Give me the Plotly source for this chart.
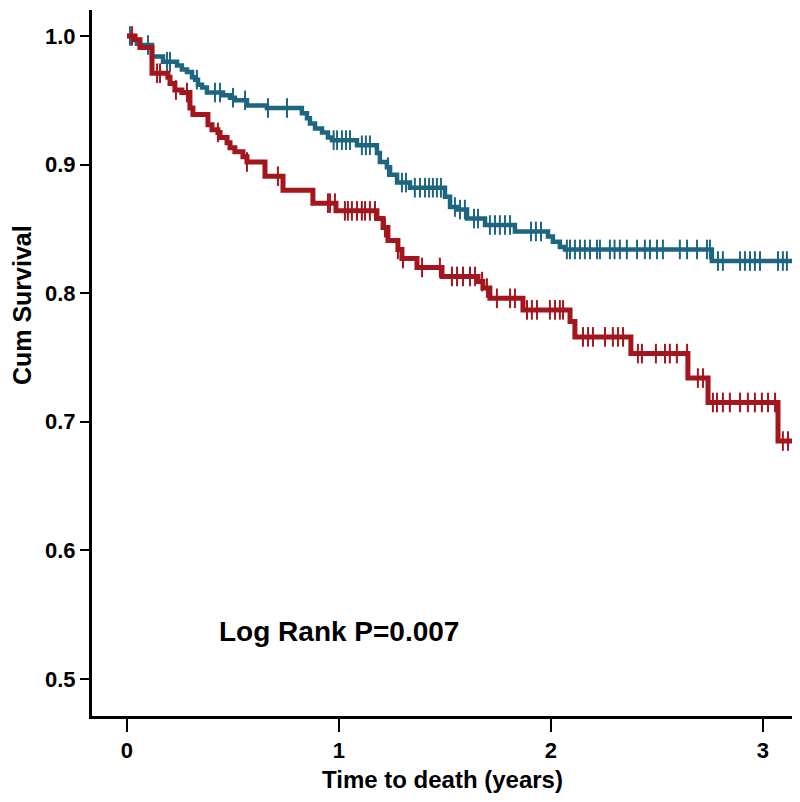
import bisect
import plotly.graph_objects as go

# ---- data ----
red_times = [0.0, 0.038, 0.061, 0.118, 0.193, 0.203, 0.226, 0.259, 0.297, 0.311, 0.382, 0.401,
             0.429, 0.439, 0.472, 0.486, 0.509, 0.547, 0.566, 0.651, 0.736, 0.877, 0.986,
             1.179, 1.208, 1.231, 1.278, 1.297, 1.368, 1.486, 1.656, 1.679, 1.712, 1.868,
             2.090, 2.113, 2.377, 2.646, 2.741, 3.071, 3.160]
red_surv = [1.0, 0.997, 0.991, 0.971, 0.968, 0.963, 0.958, 0.956, 0.944, 0.939, 0.931, 0.927,
            0.925, 0.921, 0.917, 0.913, 0.910, 0.906, 0.902, 0.891, 0.880, 0.870, 0.864,
            0.858, 0.851, 0.841, 0.834, 0.827, 0.820, 0.813, 0.809, 0.804, 0.796, 0.787,
            0.778, 0.766, 0.753, 0.734, 0.715, 0.685, 0.652]
red_censor = [0.024, 0.142, 0.156, 0.231, 0.283, 0.429, 0.566, 0.712, 0.948, 0.958, 0.981,
              1.028, 1.042, 1.061, 1.085, 1.108, 1.123, 1.146, 1.170, 1.217, 1.278, 1.302,
              1.392, 1.476, 1.533, 1.557, 1.585, 1.618, 1.642, 1.675, 1.698, 1.745, 1.807,
              1.830, 1.887, 1.910, 1.934, 1.995, 2.019, 2.042, 2.057, 2.151, 2.175, 2.198,
              2.255, 2.292, 2.316, 2.340, 2.410, 2.429, 2.495, 2.538, 2.561, 2.594, 2.642,
              2.693, 2.717, 2.764, 2.783, 2.811, 2.844, 2.892, 2.929, 2.962, 2.995, 3.024,
              3.057, 3.094, 3.118]

teal_times = [0.0, 0.028, 0.047, 0.061, 0.118, 0.170, 0.236, 0.259, 0.283, 0.307, 0.321, 0.335,
              0.354, 0.377, 0.453, 0.486, 0.509, 0.566, 0.660, 0.825, 0.849, 0.863, 0.887,
              0.920, 0.948, 0.967, 1.085, 1.179, 1.193, 1.226, 1.241, 1.274, 1.335, 1.500,
              1.524, 1.557, 1.604, 1.689, 1.830, 1.986, 2.009, 2.042, 2.066, 2.759, 3.175]
teal_surv = [1.0, 0.997, 0.994, 0.993, 0.984, 0.980, 0.977, 0.974, 0.972, 0.968, 0.966, 0.962,
             0.960, 0.956, 0.954, 0.952, 0.950, 0.946, 0.944, 0.940, 0.936, 0.932, 0.928,
             0.925, 0.921, 0.919, 0.915, 0.909, 0.902, 0.898, 0.892, 0.886, 0.882, 0.875,
             0.867, 0.865, 0.858, 0.853, 0.848, 0.844, 0.840, 0.836, 0.834, 0.825, 0.825]
teal_censor = [0.014, 0.099, 0.189, 0.203, 0.330, 0.415, 0.439, 0.500, 0.557, 0.665, 0.755,
               0.975, 0.991, 1.014, 1.033, 1.052, 1.108, 1.127, 1.146, 1.231, 1.297, 1.316,
               1.358, 1.382, 1.406, 1.425, 1.443, 1.462, 1.481, 1.547, 1.571, 1.594, 1.637,
               1.656, 1.712, 1.736, 1.759, 1.783, 1.807, 1.906, 1.929, 1.953, 2.075, 2.090,
               2.113, 2.137, 2.160, 2.184, 2.217, 2.231, 2.278, 2.300, 2.325, 2.358, 2.406,
               2.443, 2.467, 2.500, 2.528, 2.608, 2.642, 2.689, 2.736, 2.750, 2.788, 2.811,
               2.892, 2.915, 2.939, 2.962, 2.986, 3.071, 3.094, 3.113, 3.165]

x_ticks = [0, 1, 2, 3]
y_ticks = [0.5, 0.6, 0.7, 0.8, 0.9, 1.0]

RED = "#A3161E"
TEAL = "#1E6580"


def surv_at(times, surv, t):
    i = bisect.bisect_right(times, t) - 1
    return surv[max(i, 0)]


fig = go.Figure()
for times, surv, cens, col, w in [(teal_times, teal_surv, teal_censor, TEAL, 4.5),
                                  (red_times, red_surv, red_censor, RED, 5)]:
    fig.add_trace(go.Scatter(x=times, y=surv, mode="lines",
                             line=dict(color=col, width=w, shape="hv"),
                             showlegend=False, hoverinfo="skip"))
    fig.add_trace(go.Scatter(x=cens, y=[surv_at(times, surv, t) for t in cens],
                             mode="markers",
                             marker=dict(symbol="line-ns", size=14,
                                         line=dict(color=col, width=2)),
                             showlegend=False, hoverinfo="skip"))

FONT = "Liberation Sans, Arial, sans-serif"

fig.add_annotation(x=0.425, y=0.5366, xref="x", yref="y", xanchor="left", yanchor="middle",
                   text="Log Rank P=0.007", showarrow=False,
                   font=dict(family=FONT, size=28, color="black", weight="bold"))
fig.add_annotation(x=0, y=0.582, xref="paper", yref="paper", xanchor="center",
                   yanchor="middle", xshift=-70, textangle=-90,
                   text="Cum Survival", showarrow=False,
                   font=dict(family=FONT, size=25, color="black", weight="bold"))
fig.add_annotation(x=0.5, y=0, xref="paper", yref="paper", xanchor="center",
                   yanchor="middle", yshift=-63,
                   text="Time to death (years)", showarrow=False,
                   font=dict(family=FONT, size=24, color="black", weight="bold"))

# the page body adds an 8px offset, so the figure is sized to fit the window
fig.update_layout(
    width=784, height=786,
    margin=dict(l=84, r=0, t=2, b=78),
    paper_bgcolor="white", plot_bgcolor="white",
    font=dict(family=FONT, color="black"),
    xaxis=dict(range=[-0.165, 3.137], tickvals=x_ticks, ticktext=[str(v) for v in x_ticks],
               showline=True, linewidth=3, linecolor="black", ticks="outside",
               ticklen=13, tickwidth=2, tickcolor="black", showgrid=False, zeroline=False,
               tickfont=dict(size=22, family=FONT, weight="bold")),
    yaxis=dict(range=[0.4712, 1.0202], tickvals=y_ticks, tickformat=".1f",
               showline=True, linewidth=3, linecolor="black", ticks="outside",
               ticklen=9, tickwidth=2, tickcolor="black", showgrid=False, zeroline=False,
               tickfont=dict(size=22, family=FONT, weight="bold")),
)

fig.write_html("out.html")
